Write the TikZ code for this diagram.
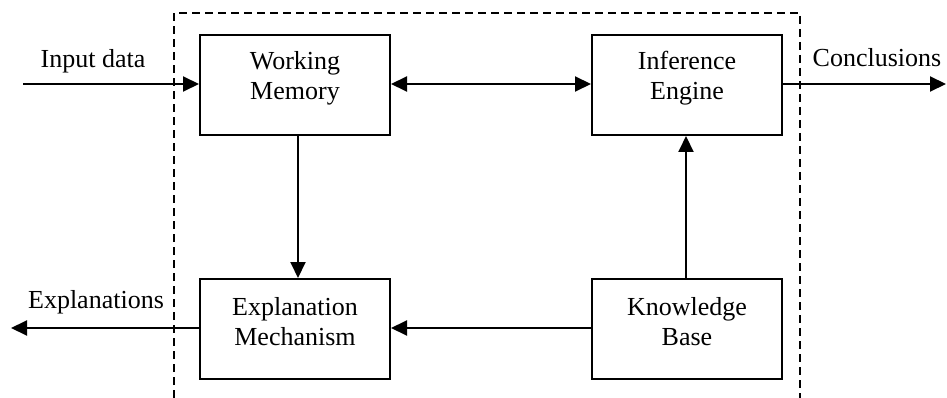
\documentclass[tikz,border=0pt]{standalone}
\usepackage{fontspec}
\setmainfont{Liberation Serif}
\usetikzlibrary{arrows.meta}
\begin{document}
\begin{tikzpicture}[x=1pt,y=-1pt,
  box/.style={draw, line width=2pt, minimum width=190pt, minimum height=100pt, inner sep=0pt},
  boxtext/.style={align=center, font=\fontsize{26}{30}\selectfont},
  lbl/.style={font=\fontsize{26}{30}\selectfont, inner sep=0pt},
  arr/.style={line width=2pt, -{Triangle[length=16pt,width=15pt]}},
  biarr/.style={line width=2pt, {Triangle[length=16pt,width=15pt]}-{Triangle[length=16pt,width=15pt]}},
  frame/.style={line width=1.7pt, dash pattern=on 8pt off 5pt}]
  \useasboundingbox (0,0) rectangle (947,398);

  % system boundary, open at the bottom
  \coordinate (fbl) at (174,398);
  \coordinate (ftl) at (174,13);
  \coordinate (ftr) at (800,13);
  \coordinate (fbr) at (800,398);
  \draw[frame] (fbl) -- (ftl) -- (ftr) -- (fbr);

  % components
  \node[box] (wm) at (295,85) {};
  \node[boxtext] (wmt) at (295,78) {Working\\Memory};
  \node[box] (ie) at (687,85) {};
  \node[boxtext] (iet) at (687,78) {Inference\\Engine};
  \node[box] (em) at (295,329) {};
  \node[boxtext] (emt) at (295,322) {Explanation\\Mechanism};
  \node[box] (kb) at (687,329) {};
  \node[boxtext] (kbt) at (687,322) {Knowledge\\Base};

  % external inputs and outputs
  \coordinate (inp) at (23,84);
  \coordinate (outc) at (946,84);
  \coordinate (oute) at (11,328);
  \node[lbl, anchor=base] (inl) at (93,68) {Input data};
  \node[lbl, anchor=base] (conl) at (877,67) {Conclusions};
  \node[lbl, anchor=base] (expl) at (96,308) {Explanations};

  % connectors
  \draw[arr] (inp) -- (wm.west |- inp);
  \draw[biarr] (wm.east |- inp) -- (ie.west |- inp);
  \draw[arr] (ie.east |- outc) -- (outc);
  \draw[arr] ([xshift=3pt]wm.south) -- ([xshift=3pt]em.north);
  \draw[arr] ([xshift=-1pt]kb.north) -- ([xshift=-1pt]ie.south);
  \draw[arr] (kb.west |- oute) -- (em.east |- oute);
  \draw[arr] (em.west |- oute) -- (oute);
\end{tikzpicture}
\end{document}
